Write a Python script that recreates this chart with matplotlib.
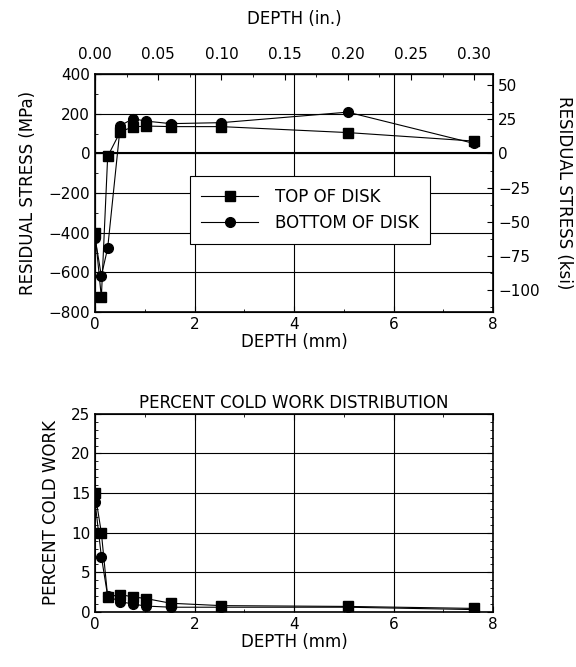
import matplotlib
matplotlib.use("Agg")
import matplotlib.pyplot as plt
from matplotlib.ticker import MultipleLocator, FormatStrFormatter
import numpy as np

# depth of each measurement (mm), 0.005 in. steps near the surface
depth_mm = [0.0, 0.127, 0.254, 0.508, 0.762, 1.016, 1.524, 2.54, 5.08, 7.62]

# residual stress (MPa)
stress_top = [-400, -725, -15, 110, 133, 138, 135, 135, 105, 62]
stress_bottom = [-425, -617, -477, 140, 175, 163, 150, 155, 208, 50]

# percent cold work
cw_top = [15.0, 10.0, 1.9, 2.2, 1.9, 1.7, 1.1, 0.8, 0.7, 0.45]
cw_bottom = [13.9, 7.0, 2.0, 1.3, 1.0, 0.75, 0.6, 0.6, 0.6, 0.3]

MPA_PER_KSI = 6.894757
MM_PER_IN = 25.4

plt.rcParams['font.family'] = ['DejaVu Sans']
plt.rcParams['font.size'] = 11
LABEL_FS = 12

fig = plt.figure(figsize=(5.76, 6.67), dpi=100)


def style_ticks(ax):
    ax.tick_params(which='both', direction='in', top=False, right=False)
    ax.tick_params(which='major', length=4, labelsize=11)
    ax.tick_params(which='minor', length=2)
    for s in ax.spines.values():
        s.set_linewidth(1.2)


# ---- top: residual stress ----
ax1 = fig.add_axes([0.165, 0.532, 0.691, 0.357])
ax1.plot(depth_mm, stress_top, '-s', color='black', lw=0.8, ms=7, label='TOP OF DISK')
ax1.plot(depth_mm, stress_bottom, '-o', color='black', lw=0.8, ms=7, label='BOTTOM OF DISK')
ax1.set_xlim(0, 8)
ax1.set_ylim(-800, 400)
ax1.xaxis.set_major_locator(MultipleLocator(2))
ax1.xaxis.set_minor_locator(MultipleLocator(1))
ax1.yaxis.set_major_locator(MultipleLocator(200))
ax1.yaxis.set_minor_locator(MultipleLocator(100))
ax1.grid(True, which='major', color='black', lw=0.8)
ax1.axhline(0, color='black', lw=1.5)
style_ticks(ax1)
ax1.set_xlabel('DEPTH (mm)', labelpad=1, fontsize=LABEL_FS)
ax1.set_ylabel('RESIDUAL STRESS (MPa)', labelpad=8, fontsize=LABEL_FS)
leg = ax1.legend(loc='center', bbox_to_anchor=(0.54, 0.43), frameon=True, fancybox=False,
                 edgecolor='black', framealpha=1, handlelength=3.4, handletextpad=1.0,
                 fontsize=12, borderpad=0.7, labelspacing=0.5, borderaxespad=0)
leg.get_frame().set_linewidth(0.8)

ax_ksi = ax1.twinx()
ax_ksi.set_ylim(-800 / MPA_PER_KSI, 400 / MPA_PER_KSI)
ax_ksi.yaxis.set_major_locator(MultipleLocator(25))
ax_ksi.yaxis.set_minor_locator(MultipleLocator(12.5))
ax_ksi.tick_params(which='both', direction='in')
ax_ksi.tick_params(which='major', length=4, labelsize=11)
ax_ksi.tick_params(which='minor', length=2)
ax_ksi.set_ylabel('RESIDUAL STRESS (ksi)', rotation=-90, labelpad=24, fontsize=LABEL_FS)

ax_in = ax1.secondary_xaxis('top', functions=(lambda x: x / MM_PER_IN, lambda x: x * MM_PER_IN))
ax_in.xaxis.set_major_locator(MultipleLocator(0.05))
ax_in.xaxis.set_minor_locator(MultipleLocator(0.025))
ax_in.xaxis.set_major_formatter(FormatStrFormatter('%.2f'))
ax_in.tick_params(which='both', direction='in')
ax_in.tick_params(which='major', length=4, pad=9, labelsize=11)
ax_in.tick_params(which='minor', length=2)
ax_in.set_xlabel('DEPTH (in.)', labelpad=16, fontsize=LABEL_FS)

# ---- bottom: cold work ----
ax2 = fig.add_axes([0.165, 0.0825, 0.691, 0.297])
ax2.plot(depth_mm, cw_top, '-s', color='black', lw=0.8, ms=7)
ax2.plot(depth_mm, cw_bottom, '-o', color='black', lw=0.8, ms=7)
ax2.set_xlim(0, 8)
ax2.set_ylim(0, 25)
ax2.xaxis.set_major_locator(MultipleLocator(2))
ax2.xaxis.set_minor_locator(MultipleLocator(1))
ax2.yaxis.set_major_locator(MultipleLocator(5))
ax2.yaxis.set_minor_locator(MultipleLocator(1))
ax2.grid(True, which='major', color='black', lw=0.8)
style_ticks(ax2)
ax2.tick_params(which='both', top=True, right=True)
ax2.set_xlabel('DEPTH (mm)', labelpad=1, fontsize=LABEL_FS)
ax2.set_ylabel('PERCENT COLD WORK', labelpad=8, fontsize=LABEL_FS)
ax2.set_title('PERCENT COLD WORK DISTRIBUTION', fontsize=LABEL_FS, pad=4)

fig.savefig('out.png', dpi=100)
